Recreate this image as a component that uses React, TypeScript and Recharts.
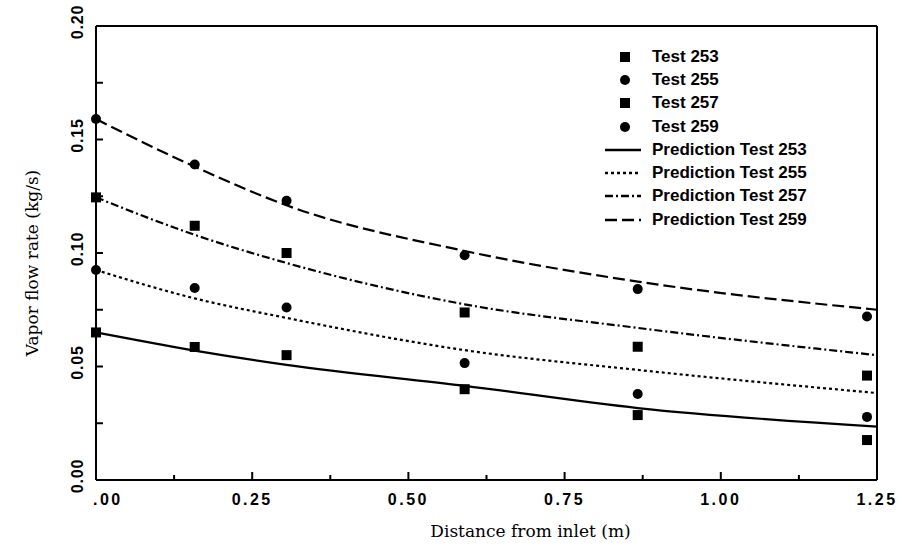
import React from 'react'
import {ComposedChart, Line, Scatter, XAxis, YAxis, Legend} from 'recharts'

// measured positions (m) and vapor flow rates (kg/s)
const testX = [0, 0.158, 0.305, 0.59, 0.867, 1.234]
const test253 = [0.065, 0.0586, 0.055, 0.040, 0.0286, 0.0176]
const test255 = [0.0925, 0.0846, 0.076, 0.0515, 0.0379, 0.0278]
const test257 = [0.1245, 0.112, 0.100, 0.0738, 0.0587, 0.046]
const test259 = [0.159, 0.139, 0.123, 0.099, 0.0841, 0.072]

// prediction curves
const predX = [0, 0.158, 0.305, 0.59, 0.867, 1.25]
const pred253 = [0.065, 0.057, 0.0507, 0.0415, 0.0317, 0.0235]
const pred255 = [0.0925, 0.080, 0.0714, 0.0572, 0.0485, 0.0383]
const pred257 = [0.1245, 0.108, 0.0956, 0.0774, 0.067, 0.055]
const pred259 = [0.159, 0.138, 0.121, 0.1009, 0.0874, 0.075]

const xTicks = [0, 0.125, 0.25, 0.375, 0.5, 0.625, 0.75, 0.875, 1, 1.125, 1.25]
const xTickLabels = ['.00', '0.25', '0.50', '0.75', '1.00', '1.25']
const yTicks = [0, 0.025, 0.05, 0.075, 0.1, 0.125, 0.15, 0.175, 0.2]
const yTickLabels = ['0.00', '0.05', '0.10', '0.15', '0.20']

const toPoints = (xs: number[], ys: number[]) => ys.map((y, i) => ({x: xs[i], y}))

const dashes: Record<string, string | undefined> = {
    'Prediction Test 253': undefined,
    'Prediction Test 255': '3 3',
    'Prediction Test 257': '8 3 2 3',
    'Prediction Test 259': '12 5',
}

const legendRows = [
    {name: 'Test 253', kind: 'square'},
    {name: 'Test 255', kind: 'circle'},
    {name: 'Test 257', kind: 'square'},
    {name: 'Test 259', kind: 'circle'},
    {name: 'Prediction Test 253', kind: 'line'},
    {name: 'Prediction Test 255', kind: 'line'},
    {name: 'Prediction Test 257', kind: 'line'},
    {name: 'Prediction Test 259', kind: 'line'},
]

const sansBold = {fontFamily: '"Liberation Sans", Arial, sans-serif', fontWeight: 'bold' as const}

const majorIndex = (v: number, step: number) => {
    const r = v / step
    return Math.abs(r - Math.round(r)) < 1e-6 ? Math.round(r) : -1
}

const BottomTick = (props: any) => {
    const {x, y, payload} = props
    const idx = majorIndex(payload.value, 0.25)
    const len = idx >= 0 ? 8 : 5
    return (
        <g>
            <line x1={x} x2={x} y1={y} y2={y - len} stroke='#000' strokeWidth={2}/>
            {idx >= 0 &&
                <text x={idx === 0 ? x - 3 : x} y={y + 25} textAnchor={idx === 0 ? 'start' : 'middle'}
                      fontSize={16} letterSpacing={2.5} fill='#000' style={sansBold}>
                    {xTickLabels[idx]}
                </text>}
        </g>
    )
}

const TopTick = (props: any) => {
    const {x, y} = props
    return <line x1={x} x2={x} y1={y} y2={y + 5} stroke='#000' strokeWidth={2}/>
}

const LeftTick = (props: any) => {
    const {x, y, payload} = props
    const idx = majorIndex(payload.value, 0.05)
    return (
        <g>
            <line x1={x} x2={x + 7} y1={y} y2={y} stroke='#000' strokeWidth={2}/>
            {idx >= 0 &&
                <text transform={`translate(${x - 19},${y - 4}) rotate(-90)`} textAnchor='middle'
                      dominantBaseline='central' fontSize={16} letterSpacing={0.8} fill='#000' style={sansBold}>
                    {yTickLabels[idx]}
                </text>}
        </g>
    )
}

const RightTick = (props: any) => {
    const {x, y} = props
    return <line x1={x} x2={x - 6} y1={y} y2={y} stroke='#000' strokeWidth={2}/>
}

const Square = (p: any) => <rect x={p.cx - 5} y={p.cy - 5} width={10} height={10} fill='#000'/>
const Dot = (p: any) => <circle cx={p.cx} cy={p.cy} r={5} fill='#000'/>

const renderLegend = () => (
    <div style={{...sansBold, fontSize: 17, color: '#000'}}>
        {legendRows.map(row => (
            <div key={row.name} style={{display: 'flex', alignItems: 'center', height: 23.3}}>
                <svg width={40} height={14}>
                    {row.kind === 'square' && <rect x={17} y={2} width={10} height={10} fill='#000'/>}
                    {row.kind === 'circle' && <circle cx={22} cy={7} r={5} fill='#000'/>}
                    {row.kind === 'line' &&
                        <line x1={2} x2={38} y1={7} y2={7} stroke='#000' strokeWidth={2.5}
                              strokeDasharray={dashes[row.name]}/>}
                </svg>
                <span style={{marginLeft: 9, whiteSpace: 'nowrap'}}>{row.name}</span>
            </div>
        ))}
    </div>
)

const App = () => {
    return (
        <div style={{position: 'absolute', left: 0, top: 0, background: '#fff'}}>
            <ComposedChart width={902} height={548} margin={{top: 25, right: 24, bottom: 0, left: 0}}>
                <XAxis xAxisId='b' type='number' dataKey='x' domain={[0, 1.25]} ticks={xTicks} interval={0}
                       tickSize={0} tickMargin={0} height={68} tick={<BottomTick/>}
                       axisLine={{stroke: '#000', strokeWidth: 2}}
                       label={{
                           content: (p: any) => {
                               const vb = p.viewBox
                               return <text x={vb.x + vb.width / 2 + 44} y={vb.y + 57} textAnchor='middle'
                                            fontSize={17} fill='#000'
                                            fontFamily='"DejaVu Serif", serif'>Distance from inlet (m)</text>
                           }
                       }}/>
                <XAxis xAxisId='t' orientation='top' type='number' dataKey='x' domain={[0, 1.25]} ticks={xTicks}
                       interval={0} tickSize={0} tickMargin={0} height={1} tick={<TopTick/>}
                       axisLine={{stroke: '#000', strokeWidth: 2}}/>
                <YAxis yAxisId='l' type='number' dataKey='y' domain={[0, 0.2]} ticks={yTicks} interval={0}
                       tickSize={0} tickMargin={0} width={96} tick={<LeftTick/>}
                       axisLine={{stroke: '#000', strokeWidth: 2}}
                       label={{
                           content: (p: any) => {
                               const vb = p.viewBox
                               const cy = vb.y + vb.height / 2 + 10
                               return <text transform={`translate(32,${cy}) rotate(-90)`} textAnchor='middle'
                                            dominantBaseline='central' fontSize={17} fill='#000'
                                            fontFamily='"DejaVu Serif", serif'>Vapor flow rate (kg/s)</text>
                           }
                       }}/>
                <YAxis yAxisId='r' orientation='right' type='number' dataKey='y' domain={[0, 0.2]} ticks={yTicks}
                       interval={0} tickSize={0} tickMargin={0} width={1} tick={<RightTick/>}
                       axisLine={{stroke: '#000', strokeWidth: 2}}/>
                <Legend layout='vertical' align='center' verticalAlign='middle' content={renderLegend}
                        wrapperStyle={{left: 603, top: 45, width: 260, height: 190}}/>

                <Line xAxisId='b' yAxisId='l' data={toPoints(predX, pred253)} dataKey='y' name='Prediction Test 253'
                      type='monotone' stroke='#000' strokeWidth={2.2} dot={false} isAnimationActive={false}/>
                <Line xAxisId='b' yAxisId='l' data={toPoints(predX, pred255)} dataKey='y' name='Prediction Test 255'
                      type='monotone' stroke='#000' strokeWidth={2.2} strokeDasharray='3 3' dot={false}
                      isAnimationActive={false}/>
                <Line xAxisId='b' yAxisId='l' data={toPoints(predX, pred257)} dataKey='y' name='Prediction Test 257'
                      type='monotone' stroke='#000' strokeWidth={2.2} strokeDasharray='8 3 2 3' dot={false}
                      isAnimationActive={false}/>
                <Line xAxisId='b' yAxisId='l' data={toPoints(predX, pred259)} dataKey='y' name='Prediction Test 259'
                      type='monotone' stroke='#000' strokeWidth={2.2} strokeDasharray='12 5' dot={false}
                      isAnimationActive={false}/>

                <Scatter xAxisId='b' yAxisId='l' data={toPoints(testX, test253)} dataKey='y' name='Test 253'
                         shape={Square} isAnimationActive={false}/>
                <Scatter xAxisId='b' yAxisId='l' data={toPoints(testX, test255)} dataKey='y' name='Test 255'
                         shape={Dot} isAnimationActive={false}/>
                <Scatter xAxisId='b' yAxisId='l' data={toPoints(testX, test257)} dataKey='y' name='Test 257'
                         shape={Square} isAnimationActive={false}/>
                <Scatter xAxisId='b' yAxisId='l' data={toPoints(testX, test259)} dataKey='y' name='Test 259'
                         shape={Dot} isAnimationActive={false}/>
            </ComposedChart>
        </div>
    )
}

export default App
